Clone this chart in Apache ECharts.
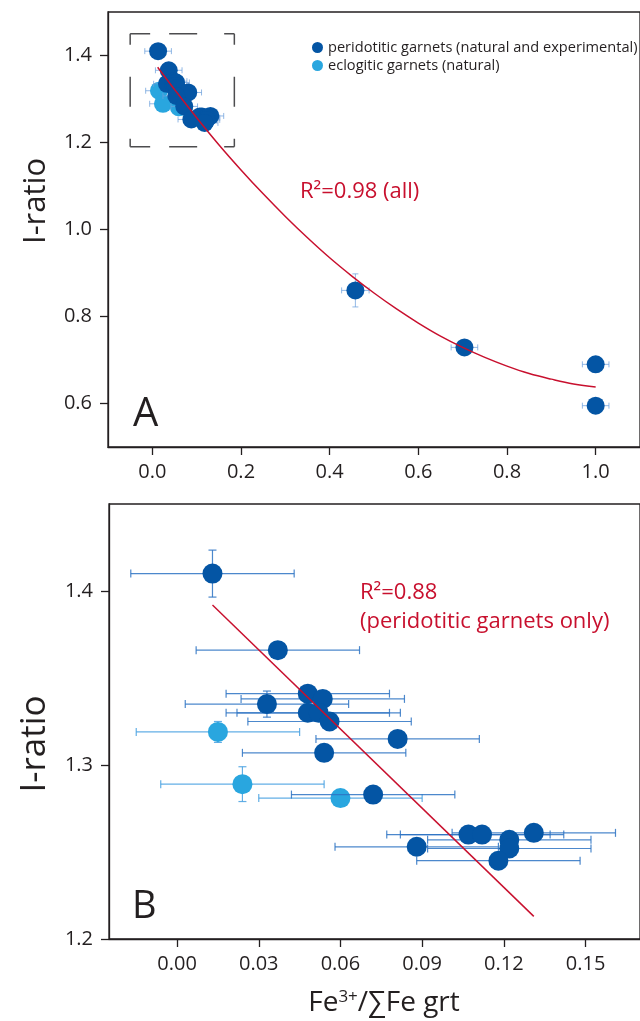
<!DOCTYPE html>
<html>
<head>
<meta charset="utf-8">
<script src="https://cdn.jsdelivr.net/npm/echarts@6/dist/echarts.min.js"></script>
<style>
  html, body { margin: 0; padding: 0; background: #fff; }
  #chart { width: 640px; height: 1021px; }
</style>
</head>
<body>
<div id="chart"></div>
<script>
// Peridotitic garnets (natural and experimental): Fe3+/ΣFe, I-ratio and their errors
const periFe3   = [0.013, 0.037, 0.033, 0.048, 0.0535, 0.048, 0.052, 0.056, 0.081, 0.054, 0.072,
                   0.107, 0.112, 0.131, 0.122, 0.122, 0.088, 0.118, 0.458, 0.704, 1.000, 1.000];
const periIRatio = [1.410, 1.366, 1.335, 1.341, 1.338, 1.330, 1.330, 1.325, 1.315, 1.307, 1.283,
                   1.260, 1.260, 1.261, 1.257, 1.252, 1.253, 1.245, 0.860, 0.729, 0.690, 0.595];
const periFeErr = [0.030, 0.030, 0.030, 0.030, 0.030, 0.030, 0.030, 0.030, 0.030, 0.030, 0.030,
                   0.030, 0.030, 0.030, 0.030, 0.030, 0.030, 0.030, 0.031, 0.030, 0.030, 0.030];
const periIErr  = [0.0135, 0.004, 0.0075, 0.004, 0.004, 0.004, 0.004, 0.004, 0.004, 0.004, 0.004,
                   0.004, 0.004, 0.004, 0.004, 0.004, 0.004, 0.004, 0.038, 0.005, 0.005, 0.005];

// Eclogitic garnets (natural)
const eclFe3    = [0.015, 0.024, 0.060];
const eclIRatio = [1.319, 1.289, 1.281];
const eclFeErr  = [0.030, 0.030, 0.030];
const eclIErr   = [0.006, 0.010, 0.004];

// Regression curve through all samples (panel A)
const fitAllFe3    = [0.012, 0.05, 0.1, 0.15, 0.2, 0.25, 0.3, 0.35, 0.4, 0.45, 0.5,
                      0.55, 0.6, 0.65, 0.7, 0.75, 0.8, 0.85, 0.9, 0.95, 1.0];
const fitAllIRatio = [1.373, 1.322, 1.257, 1.195, 1.137, 1.082, 1.030, 0.981, 0.935, 0.893, 0.854,
                      0.818, 0.785, 0.755, 0.729, 0.706, 0.686, 0.669, 0.656, 0.645, 0.638];
// Regression line through peridotitic garnets only (panel B)
const fitPeriFe3    = [0.013, 0.131];
const fitPeriIRatio = [1.392, 1.213];

// Extent of panel B, outlined in panel A
const insetFe3    = [-0.05, 0.185];
const insetIRatio = [1.19, 1.45];

// Tick values
const ticksAX = [0, 0.2, 0.4, 0.6, 0.8, 1.0];
const ticksAY = [0.6, 0.8, 1.0, 1.2, 1.4];
const ticksBX = [0, 0.03, 0.06, 0.09, 0.12, 0.15];
const ticksBY = [1.2, 1.3, 1.4];

const NAME_PERI = 'peridotitic garnets (natural and experimental)';
const NAME_ECL = 'eclogitic garnets (natural)';
const FONT = '"Open Sans", "Noto Sans", sans-serif';
const INK = '#231f20';
const RED = '#c8102e';
const DARK = '#0455a4';
const LIGHT = '#29a6df';

const B_X_MAX = 0.17;

function rows(xs, ys, exs, eys) {
  return xs.map((x, i) => [x, ys[i], exs[i], eys[i]]);
}
const periRows = rows(periFe3, periIRatio, periFeErr, periIErr);
const eclRows = rows(eclFe3, eclIRatio, eclFeErr, eclIErr);
const periRowsB = periRows.filter(r => r[0] < B_X_MAX);
const eclRowsB = eclRows.filter(r => r[0] < B_X_MAX);

// Horizontal and vertical error bars with end caps
function errorBars(color, cap, width) {
  return function (params, api) {
    const x = api.value(0), y = api.value(1), ex = api.value(2), ey = api.value(3);
    const l = api.coord([x - ex, y]), r = api.coord([x + ex, y]);
    const t = api.coord([x, y + ey]), b = api.coord([x, y - ey]);
    const h = cap / 2;
    const style = { stroke: color, lineWidth: width, fill: null };
    const seg = (x1, y1, x2, y2) => ({ type: 'line', shape: { x1, y1, x2, y2 }, style });
    const children = [
      seg(l[0], l[1], r[0], r[1]),
      seg(l[0], l[1] - h, l[0], l[1] + h),
      seg(r[0], r[1] - h, r[0], r[1] + h)
    ];
    if (b[1] - t[1] > 2) {
      children.push(
        seg(t[0], t[1], b[0], b[1]),
        seg(t[0] - h, t[1], t[0] + h, t[1]),
        seg(b[0] - h, b[1], b[0] + h, b[1])
      );
    }
    return { type: 'group', children };
  };
}

function valueAxis(gridIndex, min, max, ticks, digits, isX) {
  return {
    type: 'value', gridIndex, min, max,
    position: isX ? 'bottom' : 'left',
    splitLine: { show: false },
    axisLine: { show: true, onZero: false, lineStyle: { color: INK, width: 1.3 } },
    axisTick: { show: true, inside: false, length: 8, customValues: ticks,
                lineStyle: { color: INK, width: 1.3 } },
    axisLabel: {
      customValues: ticks, margin: isX ? 15 : 16,
      color: INK, fontFamily: FONT, fontSize: 20,
      formatter: v => Number(v).toFixed(digits)
    }
  };
}

function insetEdge(points, dash) {
  return {
    type: 'line', xAxisIndex: 0, yAxisIndex: 0, data: points,
    showSymbol: false, silent: true, z: 1,
    lineStyle: { color: '#4d4d4f', width: 1.5, type: dash }
  };
}

const [ix0, ix1] = insetFe3, [iy0, iy1] = insetIRatio;

const option = {
  animation: false,
  backgroundColor: '#fff',
  textStyle: { fontFamily: FONT },
  grid: [
    { left: 108, top: 12, width: 542, height: 435, show: true, borderColor: INK, borderWidth: 1.3, backgroundColor: 'transparent' },
    { left: 109, top: 504, width: 540, height: 435, show: true, borderColor: INK, borderWidth: 1.3, backgroundColor: 'transparent' }
  ],
  xAxis: [
    valueAxis(0, -0.1, 1.1, ticksAX, 1, true),
    valueAxis(1, -0.025, B_X_MAX, ticksBX, 2, true)
  ],
  yAxis: [
    valueAxis(0, 0.5, 1.5, ticksAY, 1, false),
    valueAxis(1, 1.2, 1.45, ticksBY, 1, false)
  ],
  legend: {
    data: [
      { name: NAME_PERI, icon: 'circle' },
      { name: NAME_ECL, icon: 'circle' }
    ],
    orient: 'vertical', left: 307, top: 35,
    itemWidth: 11, itemHeight: 11, itemGap: 3,
    selectedMode: false,
    textStyle: { color: INK, fontFamily: FONT, fontSize: 14.6 }
  },
  series: [
    // panel A
    insetEdge([[ix0, iy1], [ix1, iy1]], [20, 19, 28, 27, 12]),
    insetEdge([[ix0, iy0], [ix1, iy0]], [20, 19, 28, 27, 12]),
    insetEdge([[ix0, iy1], [ix0, iy0]], [11, 32, 30, 32, 11]),
    insetEdge([[ix1, iy1], [ix1, iy0]], [11, 32, 30, 32, 11]),
    { type: 'custom', xAxisIndex: 0, yAxisIndex: 0, silent: true, z: 2,
      renderItem: errorBars('rgba(110,160,220,0.75)', 6, 1), data: eclRows },
    { type: 'scatter', name: NAME_ECL, xAxisIndex: 0, yAxisIndex: 0, z: 3,
      symbolSize: 18, itemStyle: { color: LIGHT, opacity: 1 }, data: eclRows },
    { type: 'custom', xAxisIndex: 0, yAxisIndex: 0, silent: true, z: 4,
      renderItem: errorBars('rgba(110,160,220,0.75)', 6, 1), data: periRows },
    { type: 'scatter', name: NAME_PERI, xAxisIndex: 0, yAxisIndex: 0, z: 5,
      symbolSize: 18, itemStyle: { color: DARK, opacity: 1 }, data: periRows },
    { type: 'line', xAxisIndex: 0, yAxisIndex: 0, z: 6, silent: true,
      data: fitAllFe3.map((x, i) => [x, fitAllIRatio[i]]),
      smooth: 0.4, showSymbol: false,
      lineStyle: { color: RED, width: 1.5 } },

    // panel B
    { type: 'custom', xAxisIndex: 1, yAxisIndex: 1, silent: true, z: 2,
      renderItem: errorBars('rgba(70,160,225,0.85)', 8, 1.2), data: eclRowsB },
    { type: 'scatter', name: NAME_ECL, xAxisIndex: 1, yAxisIndex: 1, z: 3,
      symbolSize: 20, itemStyle: { color: LIGHT, opacity: 1 }, data: eclRowsB },
    { type: 'custom', xAxisIndex: 1, yAxisIndex: 1, silent: true, z: 4,
      renderItem: errorBars('rgba(45,115,195,0.85)', 8, 1.2), data: periRowsB },
    { type: 'scatter', name: NAME_PERI, xAxisIndex: 1, yAxisIndex: 1, z: 5,
      symbolSize: 20, itemStyle: { color: DARK, opacity: 1 }, data: periRowsB },
    { type: 'line', xAxisIndex: 1, yAxisIndex: 1, z: 6, silent: true,
      data: fitPeriFe3.map((x, i) => [x, fitPeriIRatio[i]]),
      showSymbol: false, lineStyle: { color: RED, width: 1.5 } }
  ],
  graphic: [
    { type: 'text', x: 300, y: 192, style: { text: 'R²=0.98 (all)', fill: RED, font: '22px ' + FONT, verticalAlign: 'middle' } },
    { type: 'text', x: 360, y: 593, style: { text: 'R²=0.88', fill: RED, font: '22px ' + FONT, verticalAlign: 'middle' } },
    { type: 'text', x: 360, y: 622, style: { text: '(peridotitic garnets only)', fill: RED, font: '22px ' + FONT, verticalAlign: 'middle' } },
    { type: 'text', x: 133, y: 415, style: { text: 'A', fill: INK, font: '40px ' + FONT, verticalAlign: 'middle' } },
    { type: 'text', x: 132, y: 907, style: { text: 'B', fill: INK, font: '38px ' + FONT, verticalAlign: 'middle' } },
    { type: 'text', x: 36, y: 201, rotation: Math.PI / 2,
      style: { text: 'I-ratio', fill: INK, font: '31px ' + FONT, align: 'center', verticalAlign: 'middle' } },
    { type: 'text', x: 35, y: 744, rotation: Math.PI / 2,
      style: { text: 'I-ratio', fill: INK, font: '35px ' + FONT, align: 'center', verticalAlign: 'middle' } },
    { type: 'text', x: 384, y: 1003,
      style: {
        text: '{n|Fe}{s|3+}{n|/∑Fe grt}', align: 'center', verticalAlign: 'middle',
        rich: {
          n: { fontFamily: FONT, fontSize: 28, fill: INK, color: INK },
          s: { fontFamily: FONT, fontSize: 17, fill: INK, color: INK, verticalAlign: 'top' }
        }
      } }
  ]
};

const chart = echarts.init(document.getElementById('chart'), null, { renderer: 'canvas' });
chart.setOption(option);
</script>
</body>
</html>
